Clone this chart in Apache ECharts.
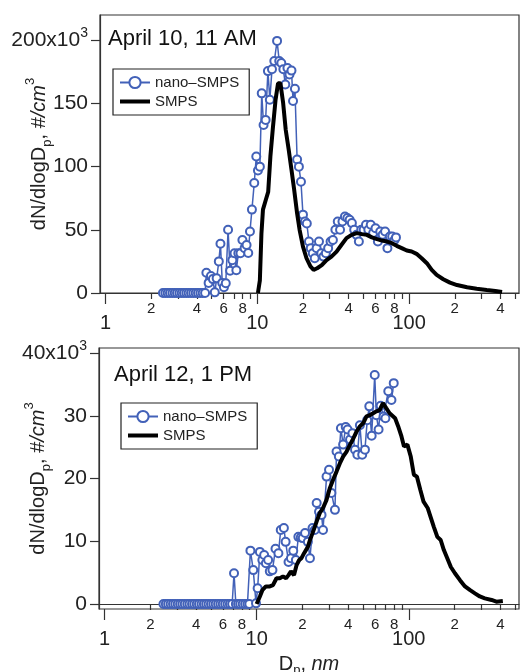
<!DOCTYPE html>
<html>
<head>
<meta charset="utf-8">
<script src="https://cdn.jsdelivr.net/npm/echarts@6/dist/echarts.min.js"></script>
<style>
html,body{margin:0;padding:0;background:#fff;}
#chart{width:521px;height:672px;}
</style>
</head>
<body>
<div id="chart"></div>
<script>
// April 10, 11 AM
var topNanoD = [2.39,2.48,2.57,2.66,2.76,2.86,2.96,3.07,3.18,3.29,3.41,3.53,3.66,3.79,3.93,4.07,4.22,4.37,4.53,
  4.62,4.78,4.95,5.1,5.25,5.4,5.58,5.72,5.88,6.03,6.2,6.42,6.62,6.85,7.08,7.28,7.5,7.75,7.98,8.25,8.5,8.72,8.95,
  9.22,9.55,9.85,10.1,10.4,10.7,11.0,11.35,11.75,12.1,12.5,12.95,13.5,13.95,14.4,14.85,15.3,15.8,16.3,16.8,17.2,
  17.7,18.3,18.8,19.4,20.0,20.6,21.2,21.9,22.5,23.2,23.9,24.6,25.5,26.4,27.3,28.3,29.3,30.4,31.5,32.7,33.9,35.1,
  36.4,37.8,39.2,40.6,42.0,43.5,45.1,46.7,48.4,50.2,52.0,53.9,55.9,58.0,60.1,62.3,64.6,67.0,69.5,72.0,74.7,77.4,
  80.2,82.0];
var topNanoN = [0,0,0,0,0,0,0,0,0,0,0,0,0,0,0,0,0,0,0,
  16,8,13.5,11,0.5,11.6,25,39,8,4.5,7.7,50,17.7,26,31.5,18,31.5,31.5,42,35.5,38,31.7,48.7,
  66,87,108,97,100,158,133,137,175.6,153,177,183.6,199.5,183.6,182,177,165,178,173,176,152,
  161.6,105.6,100,88,62,56.6,55,40.7,35.5,31.5,27.5,35.5,40.7,31.5,28.8,31.5,35.5,40.7,42,50,56.6,50,
  56.6,60.6,59.3,58,55.3,50,46,40.7,50,50,54,50,54,47.4,51.3,40.7,48.7,46,48.7,35.5,44.7,44.7,
  42,44];
var topSmpsD = [10.1,10.4,10.65,10.9,11.4,11.8,12.2,12.7,13.2,13.7,14.2,14.8,15.4,16.1,16.8,17.5,18.3,19.0,
  20.0,21.1,22.4,23.5,24.8,26.6,28.6,30.8,33.3,35.8,38.7,41.8,45.2,48.8,52.7,56.9,61.5,66.3,71.4,77.1,
  82.9,89.4,96.6,104,112,121,131,141,152,168,186,207,241,279,325,370,410];
var topSmpsN = [0,10,47,66,74,80,108,132,153,166,166,150.5,129,113.5,97.6,81.7,63,50,
  36.7,27.5,21,18.3,19.6,22,26,28.8,32.8,38,43.4,46,47.4,46.6,46,44,42.6,41.5,40.7,39.4,
  37.3,35.5,33.6,32.8,31,27.5,23.6,18.3,14.3,10.9,8.2,6.3,4.5,3.4,2.4,1.6,0.8];

// April 12, 1 PM
var botNanoD = [2.44,2.53,2.62,2.72,2.82,2.92,3.03,3.14,3.25,3.37,3.5,3.62,3.76,3.89,4.04,4.18,4.34,4.5,4.66,4.83,
  5.01,5.19,5.38,5.58,5.78,5.99,6.21,6.44,6.67,6.9,7.1,7.3,7.55,7.8,8.1,8.4,8.7,8.95,
  9.1,9.5,9.9,10.15,10.5,10.9,11.2,11.5,11.9,12.2,12.7,13.3,13.9,14.4,15.1,15.5,16.2,16.8,17.4,18.1,18.8,19.5,
  20.1,20.8,21.7,22.4,23.3,24.1,24.8,25.7,26.7,27.3,28.8,29.9,31.0,32.7,33.5,34.7,35.8,37.0,38.5,39.6,41.1,
  42.6,44.3,45.9,47.7,49.4,51.5,53.3,55.0,57.0,59.7,61.2,63.3,65.3,68.2,70.2,73.3,76.9,79.6];
var botNanoN = [0,0,0,0,0,0,0,0,0,0,0,0,0,0,0,0,0,0,0,0,
  0,0,0,0,0,0,0,0,0,0,4.9,0,0,0,0,0,0,0,
  8.5,5.4,0.1,2.5,8.3,7,7.8,6.5,7,5.2,5.4,8.8,8.1,11.8,12.1,9.9,6.7,7.3,8.5,7,10.7,10.6,
  10.5,11.3,9.9,7.3,12.1,11.8,16.1,14.7,14.2,11.8,20.3,21.4,17.7,15,24.3,23.5,28,25.4,28.2,27.8,26.2,
  27.2,24.6,23.8,28.5,23.8,24.6,29.3,31.5,26.8,36.5,30.1,27.8,31.6,29.9,29.6,33.9,32.5,35.2];
var botSmpsD = [10.0,10.5,10.9,11.5,12.2,12.8,13.5,14.2,14.9,15.6,16.2,16.8,17.6,18.3,19.0,19.7,20.5,21.7,22.4,
  23.3,24.1,25.0,26.0,27.3,28.8,30.3,31.8,33.5,35.2,37.0,39.0,41.1,43.2,45.4,47.7,50.1,52.7,55.4,58.3,
  61.2,64.3,67.6,71.1,74.8,81.3,85.2,89.5,93.0,97.9,103,108,113,119,125,133,139,146,154,162,170,179,189,
  201,217,234,253,272,293,316,350,376,415];
var botSmpsN = [0,1.2,2.2,2.8,2.8,3.0,4.1,4.1,4.4,4.1,4.6,5.2,4.6,6.2,7,7.3,8.1,9.1,10.2,
  11.3,12.3,13.4,14.5,15.3,16.6,18.5,19.8,21.1,22.4,23.5,24.3,25.4,26.4,27.5,28.3,28.8,29.9,30.1,30.4,
  30.7,30.9,32,31.2,30.4,29.6,28.3,26.7,25.1,25.4,23.5,20.6,20.3,18.2,16.3,15.3,13.9,12.3,10.7,10.2,8.6,7.3,5.9,
  4.9,3.8,2.8,2.2,1.7,1.2,0.9,0.64,0.37,0.48];

var minorTicks = [2,3,4,5,6,7,8,9,20,30,40,50,60,70,80,90,200,300,400,500];
var minorLabels = [2,4,6,8,20,40,60,80,200,400];
var majorLabels = [1,10,100];
var topYLabels = [0,50,100,150,200];
var botYLabels = [0,10,20,30,40];

function pairs(xs, ys) {
  var out = [];
  for (var i = 0; i < xs.length; i++) out.push([xs[i], ys[i]]);
  return out;
}

var FONT = 'Liberation Sans, Arial, sans-serif';
var BLUE = '#4261b8';
var AXC = '#333';

function minorLabel(v) {
  return String(v).charAt(0);
}

function xAxes(gi, withName) {
  var a = {
    type: 'log', gridIndex: gi, min: 0.92, max: 530, position: 'bottom',
    axisLine: {show: true, lineStyle: {color: AXC, width: 1.2}},
    axisTick: {show: true, length: 6, customValues: minorTicks, lineStyle: {color: AXC, width: 1.2}},
    axisLabel: {customValues: minorLabels, formatter: minorLabel, margin: 8,
      fontSize: 15, color: '#222', fontFamily: FONT},
    splitLine: {show: false}
  };
  var b = {
    type: 'log', gridIndex: gi, min: 0.92, max: 530, position: 'bottom',
    axisLine: {show: false},
    axisTick: {show: true, length: 11, customValues: majorLabels, lineStyle: {color: AXC, width: 1.2}},
    axisLabel: {customValues: majorLabels, margin: 20, fontSize: 20, color: '#222', fontFamily: FONT},
    splitLine: {show: false}
  };
  if (withName) {
    b.name = '{n|D}{b|p}{n|, }{i|nm}';
    b.nameLocation = 'middle';
    b.nameGap = 42;
    b.nameTextStyle = {color: '#222', fontFamily: FONT, rich: {
      n: {fontSize: 20, fontFamily: FONT, color: '#222', lineHeight: 26},
      b: {fontSize: 13, fontFamily: FONT, color: '#222', verticalAlign: 'bottom', lineHeight: 26},
      i: {fontSize: 20, fontFamily: FONT, color: '#222', fontStyle: 'italic', lineHeight: 26}
    }};
  }
  return [a, b];
}

function yAxis(gi, min, max, labels, top) {
  return {
    type: 'value', gridIndex: gi, min: min, max: max,
    name: '{n|dN/dlogD}{b|p}{n|, }{i|#/cm}{t|3}',
    nameLocation: 'middle', nameRotate: 90, nameGap: 46, nameMoveOverlap: false,
    nameTextStyle: {color: '#222', fontFamily: FONT, rich: {
      n: {fontSize: 20, fontFamily: FONT, color: '#222', lineHeight: 30},
      b: {fontSize: 13, fontFamily: FONT, color: '#222', verticalAlign: 'bottom', lineHeight: 30},
      i: {fontSize: 20, fontFamily: FONT, color: '#222', fontStyle: 'italic', lineHeight: 30},
      t: {fontSize: 13, fontFamily: FONT, color: '#222', verticalAlign: 'top', lineHeight: 30}
    }},
    axisLine: {show: true, lineStyle: {color: AXC, width: 1.2}},
    axisTick: {show: true, length: 9, customValues: labels, lineStyle: {color: AXC, width: 1.2}},
    axisLabel: {customValues: labels, margin: 12, fontSize: 21, color: '#222', fontFamily: FONT,
      formatter: function (v) { return v === top ? '{n|' + top + 'x10}{t|3}' : String(v); },
      rich: {
        n: {fontSize: 21, fontFamily: FONT, color: '#222', lineHeight: 28},
        t: {fontSize: 14, fontFamily: FONT, color: '#222', verticalAlign: 'top', lineHeight: 28}
      }},
    splitLine: {show: false}
  };
}

function nanoSeries(xi, yi, data) {
  return {
    name: 'nano\u2013SMPS', type: 'line', xAxisIndex: xi, yAxisIndex: yi, data: data,
    symbol: 'emptyCircle', symbolSize: 8, showAllSymbol: true, z: 2,
    lineStyle: {color: BLUE, width: 1.5},
    itemStyle: {color: BLUE, borderColor: BLUE, borderWidth: 1.4}
  };
}
function smpsSeries(xi, yi, data) {
  return {
    name: 'SMPS', type: 'line', xAxisIndex: xi, yAxisIndex: yi, data: data,
    showSymbol: false, symbol: 'none', z: 3,
    lineStyle: {color: '#000', width: 4},
    itemStyle: {color: '#000'}
  };
}

function legendAt(left, top) {
  return {
    orient: 'vertical', left: left, top: top, padding: [6, 10, 6, 6], itemGap: 4,
    itemWidth: 30, itemHeight: 14, borderColor: '#222', borderWidth: 1.2,
    data: [
      {name: 'nano\u2013SMPS'},
      {name: 'SMPS', icon: 'path://M0,0H30V4H0Z', itemStyle: {color: '#000'}}
    ],
    textStyle: {fontSize: 15, color: '#222', fontFamily: FONT}
  };
}

var chart = echarts.init(document.getElementById('chart'), null, {renderer: 'canvas'});
chart.setOption({
  animation: false,
  backgroundColor: '#fff',
  title: [
    {text: 'April 10, 11 AM', left: 108, top: 28, padding: 0,
      textStyle: {fontSize: 22, fontWeight: 'normal', color: '#111', fontFamily: FONT}},
    {text: 'April 12, 1 PM', left: 114, top: 364, padding: 0,
      textStyle: {fontSize: 22, fontWeight: 'normal', color: '#111', fontFamily: FONT}}
  ],
  legend: [legendAt(113, 69), legendAt(121, 403)],
  grid: [
    {left: 100, top: 15, right: 2, height: 278, show: true, borderColor: AXC, borderWidth: 1.2,
      containLabel: false, outerBoundsMode: 'none'},
    {left: 99, top: 348, right: 2, height: 261, show: true, borderColor: AXC, borderWidth: 1.2,
      containLabel: false, outerBoundsMode: 'none'}
  ],
  xAxis: xAxes(0, false).concat(xAxes(1, true)),
  yAxis: [yAxis(0, 0, 220, topYLabels, 200), yAxis(1, -0.8, 40.8, botYLabels, 40)],
  series: [
    nanoSeries(0, 0, pairs(topNanoD, topNanoN)),
    smpsSeries(0, 0, pairs(topSmpsD, topSmpsN)),
    nanoSeries(2, 1, pairs(botNanoD, botNanoN)),
    smpsSeries(2, 1, pairs(botSmpsD, botSmpsN))
  ]
});
</script>
</body>
</html>
